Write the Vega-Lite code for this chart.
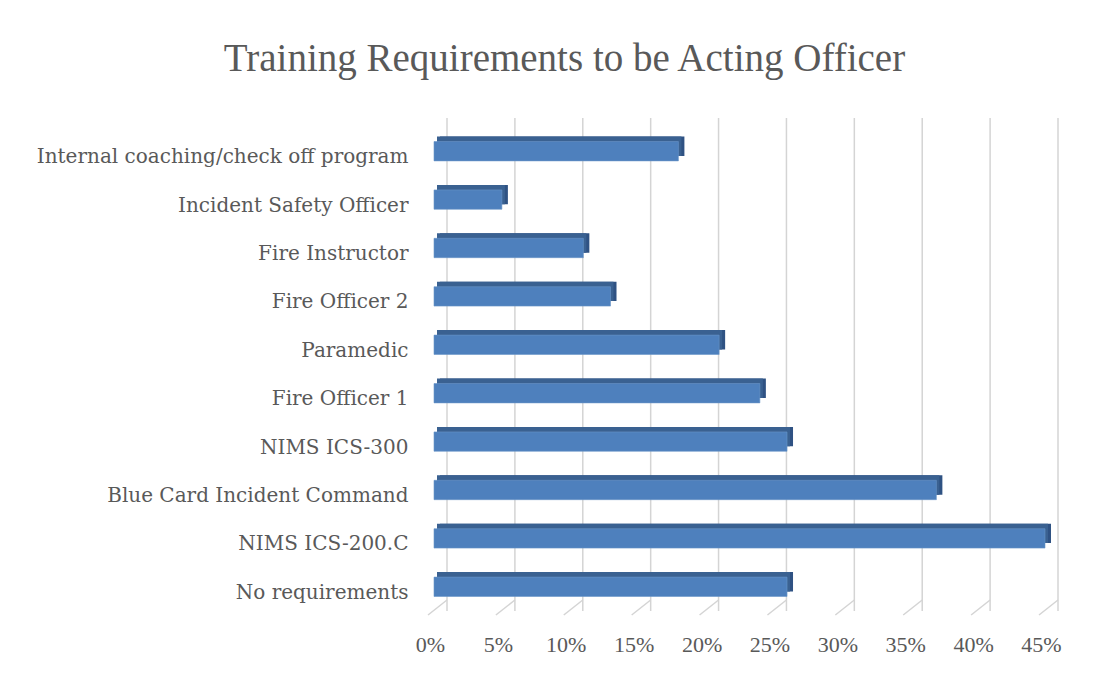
{
  "$schema": "https://vega.github.io/schema/vega-lite/v6.json",
  "autosize": {"type": "none"},
  "width": 611,
  "height": 484,
  "padding": {"left": 434, "top": 127, "right": 59, "bottom": 62},
  "background": "white",
  "title": {
    "text": "Training Requirements to be Acting Officer",
    "font": "Liberation Serif",
    "fontSize": 39,
    "fontWeight": "normal",
    "color": "#595959",
    "anchor": "middle",
    "frame": "group",
    "dx": -175,
    "baseline": "alphabetic",
    "offset": 7
  },
  "config": {
    "view": {"stroke": null},
    "axis": {"labelColor": "#595959", "domain": false, "ticks": false, "grid": false, "title": null}
  },
  "layer": [
    {
      "data": {"values": [{"t": 0}, {"t": 0.05}, {"t": 0.1}, {"t": 0.15}, {"t": 0.2}, {"t": 0.25}, {"t": 0.3}, {"t": 0.35}, {"t": 0.4}, {"t": 0.45}]},
      "mark": {"type": "rule", "color": "#d4d4d4", "strokeWidth": 1.5, "xOffset": 13, "yOffset": -9, "y2Offset": -11},
      "encoding": {
        "x": {"field": "t", "type": "quantitative", "scale": {"domain": [0, 0.45], "nice": false}}
      }
    },
    {
      "data": {"values": [{"t": 0}, {"t": 0.05}, {"t": 0.1}, {"t": 0.15}, {"t": 0.2}, {"t": 0.25}, {"t": 0.3}, {"t": 0.35}, {"t": 0.4}, {"t": 0.45}]},
      "mark": {"type": "rule", "color": "#d4d4d4", "strokeWidth": 1.5, "xOffset": -6, "x2Offset": 13},
      "encoding": {
        "x": {"field": "t", "type": "quantitative"},
        "x2": {"field": "t"},
        "y": {"value": {"expr": "height + 4"}},
        "y2": {"value": {"expr": "height - 11"}}
      }
    },
    {
      "data": {"name": "bars", "values": [
        {"cat": "Internal coaching/check off program", "v": 0.18},
        {"cat": "Incident Safety Officer", "v": 0.05},
        {"cat": "Fire Instructor", "v": 0.11},
        {"cat": "Fire Officer 2", "v": 0.13},
        {"cat": "Paramedic", "v": 0.21},
        {"cat": "Fire Officer 1", "v": 0.24},
        {"cat": "NIMS ICS-300", "v": 0.26},
        {"cat": "Blue Card Incident Command", "v": 0.37},
        {"cat": "NIMS ICS-200.C", "v": 0.45},
        {"cat": "No requirements", "v": 0.26}
      ]},
      "encoding": {
        "y": {"field": "cat", "type": "nominal", "sort": null,
          "scale": {"paddingInner": 0.6, "paddingOuter": 0.3},
          "axis": {"labelFont": "DejaVu Serif", "labelFontSize": 20, "labelPadding": 26, "labelOffset": 6, "labelBaseline": "middle", "labelLimit": 500}},
        "x": {"field": "v", "type": "quantitative",
          "scale": {"domain": [0, 0.45], "nice": false},
          "axis": {"labelFont": "Liberation Serif", "labelFontSize": 22, "format": ".0%", "values": [0, 0.05, 0.1, 0.15, 0.2, 0.25, 0.3, 0.35, 0.4, 0.45], "labelPadding": 23, "labelOffset": -4, "labelFlush": false}}
      },
      "layer": [
        {"mark": {"type": "bar", "color": "#2f5283", "xOffset": 6, "yOffset": -5}},
        {"mark": {"type": "bar", "color": "#3a6191", "xOffset": 3, "yOffset": -5, "x2Offset": -3}},
        {"mark": {"type": "bar", "color": "#4e80bd", "stroke": "#6a95c8", "strokeWidth": 0.6}}
      ]
    }
  ]
}
